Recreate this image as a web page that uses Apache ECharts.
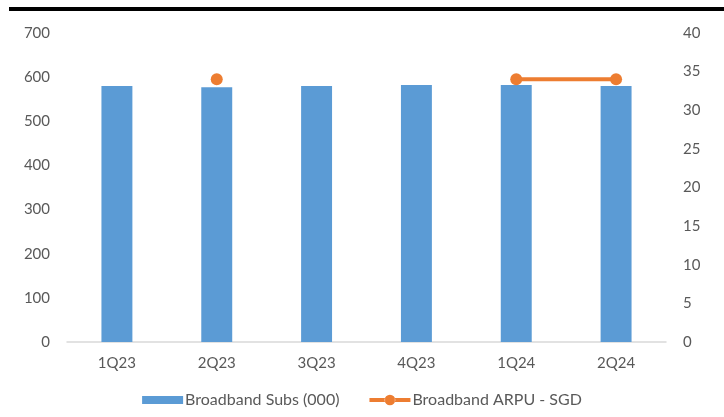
<!DOCTYPE html>
<html>
<head>
<meta charset="utf-8">
<script src="https://cdn.jsdelivr.net/npm/echarts@6/dist/echarts.min.js"></script>
<style>
  html, body { margin: 0; padding: 0; background: #fff; }
  #chart { width: 724px; height: 417px; }
</style>
</head>
<body>
<div id="chart"></div>
<script>
// Quarterly broadband subscribers (thousands) and ARPU (SGD)
const quarters = ['1Q23', '2Q23', '3Q23', '4Q23', '1Q24', '2Q24'];
const broadbandSubs = [580, 577, 580, 582, 582, 580];
const broadbandArpu = [null, 34, null, null, 34, 34];
const leftTicks = { min: 0, max: 700, interval: 100 };
const rightTicks = { min: 0, max: 40, interval: 5 };

const FONT = 'Lato';
const TEXT = '#595959';
// legend markers: a flat bar swatch, and a thick stroke with a dot in the middle
const BAR_ICON = 'path://M0 0h40v8h-40z';
const LINE_ICON = 'path://M0 3.5h16v4h-16z M26 3.5h16v4h-16z M15.5 5.5a5.5 5.5 0 1 0 11 0a5.5 5.5 0 1 0 -11 0z';

const chart = echarts.init(document.getElementById('chart'));
chart.setOption({
  animation: false,
  textStyle: { fontFamily: FONT },
  graphic: [
    { type: 'rect', shape: { x: 9, y: 7, width: 715, height: 4 }, style: { fill: '#000' } }
  ],
  grid: { left: 67, right: 58, top: 33, bottom: 75 },
  legend: {
    bottom: 4,
    left: 'center',
    itemGap: 30,
    itemWidth: 41,
    itemHeight: 11,
    textStyle: { color: TEXT, fontSize: 16, fontFamily: FONT, padding: [0, 0, 0, -3] },
    data: [
      { name: 'Broadband Subs (000)', icon: BAR_ICON },
      { name: 'Broadband ARPU - SGD', icon: LINE_ICON, itemStyle: { color: '#ed7d31' } }
    ]
  },
  xAxis: {
    type: 'category',
    data: quarters,
    axisLine: { lineStyle: { color: '#d9d9d9', width: 1.5 } },
    axisTick: { show: false },
    axisLabel: { color: TEXT, fontSize: 15, margin: 14 }
  },
  yAxis: [
    {
      type: 'value',
      min: leftTicks.min, max: leftTicks.max, interval: leftTicks.interval,
      axisLine: { show: false }, axisTick: { show: false }, splitLine: { show: false },
      axisLabel: { color: TEXT, fontSize: 15, margin: 17 }
    },
    {
      type: 'value',
      min: rightTicks.min, max: rightTicks.max, interval: rightTicks.interval,
      axisLine: { show: false }, axisTick: { show: false }, splitLine: { show: false },
      axisLabel: { color: TEXT, fontSize: 15, margin: 17 }
    }
  ],
  series: [
    {
      name: 'Broadband Subs (000)',
      type: 'bar',
      data: broadbandSubs,
      barWidth: '31%',
      itemStyle: { color: '#5b9bd5' }
    },
    {
      name: 'Broadband ARPU - SGD',
      type: 'line',
      yAxisIndex: 1,
      data: broadbandArpu,
      connectNulls: false,
      symbol: 'circle',
      symbolSize: 12,
      showAllSymbol: true,
      lineStyle: { color: '#ed7d31', width: 4 },
      itemStyle: { color: '#ed7d31' }
    }
  ]
});
</script>
</body>
</html>
